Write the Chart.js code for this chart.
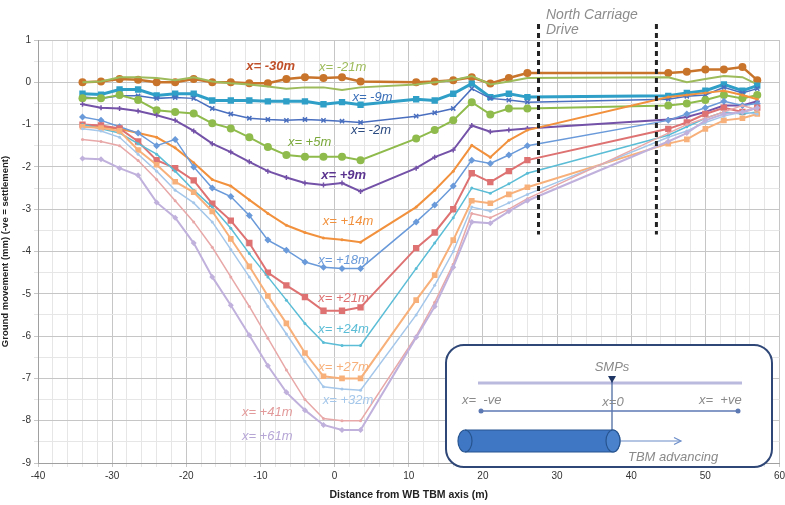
<!DOCTYPE html>
<html>
<head>
<meta charset="utf-8">
<script src="https://cdn.jsdelivr.net/npm/chart.js@4.4.1/dist/chart.umd.min.js"></script>
<style>
  html, body { margin: 0; padding: 0; background: #fff; }
  #wrap { width: 785px; height: 505px; }
</style>
</head>
<body>
<div id="wrap"><canvas id="settlement" width="785" height="505"></canvas></div>
<script>
// distance from WB TBM axis (m)
const xs = [-34, -31.5, -29, -26.5, -24, -21.5, -19, -16.5, -14, -11.5, -9, -6.5, -4, -1.5, 1, 3.5,
            11, 13.5, 16, 18.5, 21, 23.5, 26, 45, 47.5, 50, 52.5, 55, 57];

// ground movement (mm), one array per TBM face position
const m30 = [0.0, 0.02, 0.08, 0.06, 0.0, 0.0, 0.08, 0.0, 0.0, -0.02, -0.02, 0.08, 0.12, 0.1, 0.12, 0.02, 0.0, 0.02, 0.05, 0.12, -0.03, 0.1, 0.22, 0.22, 0.25, 0.3, 0.3, 0.36, 0.05];
const m21 = [0.0, 0.02, 0.12, 0.12, 0.1, 0.05, 0.12, 0.02, -0.02, -0.05, -0.1, -0.15, -0.12, -0.12, -0.18, -0.12, -0.05, 0.0, 0.05, 0.15, -0.05, 0.02, 0.1, 0.12, 0.0, 0.08, 0.15, 0.12, -0.05];
const m9 = [-0.27, -0.29, -0.17, -0.17, -0.31, -0.27, -0.27, -0.43, -0.43, -0.43, -0.45, -0.45, -0.45, -0.52, -0.47, -0.53, -0.4, -0.43, -0.27, -0.03, -0.35, -0.27, -0.35, -0.32, -0.25, -0.2, -0.05, -0.2, -0.08];
const m2 = [-0.35, -0.38, -0.32, -0.32, -0.38, -0.36, -0.38, -0.62, -0.75, -0.85, -0.88, -0.9, -0.88, -0.9, -0.92, -0.95, -0.8, -0.72, -0.62, -0.15, -0.38, -0.42, -0.47, -0.4, -0.33, -0.3, -0.12, -0.25, -0.15];
const p5 = [-0.38, -0.38, -0.3, -0.42, -0.66, -0.7, -0.74, -0.97, -1.09, -1.3, -1.53, -1.72, -1.76, -1.76, -1.76, -1.84, -1.33, -1.13, -0.9, -0.47, -0.76, -0.62, -0.62, -0.55, -0.5, -0.42, -0.3, -0.38, -0.3];
const p9 = [-0.52, -0.6, -0.62, -0.68, -0.78, -0.9, -1.15, -1.45, -1.65, -1.88, -2.1, -2.25, -2.38, -2.43, -2.38, -2.58, -2.03, -1.77, -1.6, -1.02, -1.17, -1.13, -1.09, -0.88, -0.82, -0.7, -0.55, -0.55, -0.45];
const p14 = [-1.0, -1.05, -1.1, -1.2, -1.3, -1.55, -1.9, -2.3, -2.45, -2.78, -3.1, -3.38, -3.55, -3.68, -3.72, -3.78, -2.95, -2.55, -2.1, -1.49, -1.77, -1.37, -1.13, -0.35, -0.3, -0.25, -0.2, -0.3, -0.4];
const p18 = [-0.82, -0.9, -1.05, -1.2, -1.5, -1.35, -2.0, -2.5, -2.7, -3.15, -3.73, -3.97, -4.25, -4.37, -4.4, -4.4, -3.3, -2.9, -2.45, -1.84, -1.92, -1.72, -1.5, -0.9, -0.75, -0.6, -0.45, -0.55, -0.5];
const p21 = [-1.0, -1.02, -1.09, -1.4, -1.84, -2.03, -2.32, -2.87, -3.27, -3.8, -4.5, -4.8, -5.08, -5.4, -5.4, -5.32, -3.92, -3.55, -3.0, -2.15, -2.36, -2.1, -1.84, -1.1, -0.95, -0.75, -0.6, -0.7, -0.6];
const p24 = [-1.0, -1.1, -1.2, -1.45, -1.7, -2.1, -2.55, -2.95, -3.45, -4.05, -4.6, -5.15, -5.7, -6.15, -6.22, -6.22, -4.4, -3.8, -3.2, -2.5, -2.62, -2.4, -2.15, -1.25, -1.05, -0.85, -0.7, -0.75, -0.7];
const p27 = [-1.05, -1.08, -1.15, -1.6, -1.95, -2.35, -2.6, -3.05, -3.7, -4.35, -5.05, -5.7, -6.4, -6.95, -7.0, -7.0, -5.15, -4.56, -3.73, -2.8, -2.86, -2.65, -2.48, -1.45, -1.35, -1.1, -0.9, -0.85, -0.75];
const p32 = [-1.1, -1.15, -1.3, -1.7, -2.1, -2.55, -2.85, -3.3, -3.95, -4.6, -5.3, -5.95, -6.6, -7.2, -7.25, -7.28, -5.5, -4.8, -4.0, -2.95, -3.05, -2.85, -2.65, -1.3, -1.15, -0.95, -0.8, -0.7, -0.75];
const p41 = [-1.35, -1.4, -1.5, -1.85, -2.3, -2.8, -3.3, -3.9, -4.6, -5.3, -6.05, -6.8, -7.5, -7.95, -8.0, -8.0, -6.0, -5.2, -4.3, -3.1, -3.2, -3.0, -2.75, -1.2, -1.0, -0.85, -0.7, -0.55, -0.65];
const p61 = [-1.8, -1.82, -2.03, -2.2, -2.84, -3.2, -3.8, -4.6, -5.27, -5.98, -6.7, -7.33, -7.75, -8.1, -8.22, -8.22, -6.03, -5.3, -4.37, -3.3, -3.33, -3.05, -2.8, -1.4, -1.2, -0.9, -0.75, -0.7, -0.6];

const seriesNames = ["x= -30m", "x= -21m", "x= -9m", "x= -2m", "x= +5m", "x= +9m", "x= +14m",
                     "x= +18m", "x= +21m", "x= +24m", "x= +27m", "x= +32m", "x= +41m", "x= +61m"];
const seriesValues = [m30, m21, m9, m2, p5, p9, p14, p18, p21, p24, p27, p32, p41, p61];

const colors = ["#c9742b", "#9dbb5a", "#2f9fc7", "#4a6fbf", "#8fba4c", "#7452a8", "#f2913d",
                "#6a9ad9", "#de7272", "#5bbdd6", "#f8b07a", "#a5c7ea", "#e8a8a8", "#c0b1dc"];
const markers = ["circle", "circle", "rect", "crossRot", "circle", "cross", "circle",
                 "rectRot", "rect", "circle", "rect", "circle", "circle", "rectRot"];
const radii = [4, 0, 4.5, 3, 4, 2.5, 1.5, 3.5, 4.5, 1.5, 4, 1.5, 1.5, 3];
const widths = [2.5, 2, 3, 1.5, 2, 2, 2, 1.5, 2, 1.5, 2, 1.5, 1.5, 2];

// curve labels: [text, x, y, colour, bold]
const curveLabels = [
  ["x= -30m", -11.9, 0.38, "#c0502a", true],
  ["x= -21m", -2.1, 0.35, "#9dbb5a", false],
  ["x= -9m", 2.4, -0.36, "#3b6fb8", false],
  ["x= -2m", 2.2, -1.13, "#2a4a80", false],
  ["x= +5m", -6.3, -1.42, "#7aa83a", false],
  ["x= +9m", -1.8, -2.2, "#5b3490", true],
  ["x= +14m", -1.6, -3.3, "#f2913d", false],
  ["x= +18m", -2.2, -4.2, "#6a9ad9", false],
  ["x= +21m", -2.2, -5.1, "#de7272", false],
  ["x= +24m", -2.2, -5.84, "#5bbdd6", false],
  ["x= +27m", -2.2, -6.74, "#f8b07a", false],
  ["x= +32m", -1.6, -7.52, "#a5c7ea", false],
  ["x= +41m", -12.5, -7.8, "#e39a9a", false],
  ["x= +61m", -12.5, -8.38, "#b6a6d6", false]
];

// North Carriage Drive limits
const driveEdges = [27.5, 43.4];
const driveBottom = -3.6;

const datasets = seriesValues.map((vals, i) => ({
  label: seriesNames[i],
  data: xs.map((x, j) => ({ x: x, y: vals[j] })),
  showLine: true,
  borderColor: colors[i],
  backgroundColor: colors[i],
  borderWidth: widths[i],
  pointStyle: markers[i],
  pointRadius: radii[i],
  pointBorderWidth: markers[i] === "crossRot" || markers[i] === "cross" ? 1.5 : 0,
  pointBorderColor: colors[i],
  tension: 0
})).reverse();

const overlay = {
  id: "overlay",
  afterDatasetsDraw(chart) {
    const ctx = chart.ctx;
    const xS = chart.scales.x, yS = chart.scales.y;
    ctx.save();

    // dashed road edges
    ctx.strokeStyle = "#222";
    ctx.lineWidth = 3;
    ctx.setLineDash([5, 4]);
    driveEdges.forEach(v => {
      const px = xS.getPixelForValue(v);
      ctx.beginPath();
      ctx.moveTo(px, 24);
      ctx.lineTo(px, yS.getPixelForValue(driveBottom));
      ctx.stroke();
    });
    ctx.setLineDash([]);

    ctx.fillStyle = "#8c8c8c";
    ctx.font = "italic 14px 'Liberation Sans', Arial, sans-serif";
    ctx.textBaseline = "middle";
    ctx.textAlign = "left";
    ctx.fillText("North Carriage", 546, 15);
    ctx.fillText("Drive", 546, 30);

    // curve labels
    curveLabels.forEach(l => {
      ctx.font = (l[4] ? "italic bold " : "italic ") + "13px 'Liberation Sans', Arial, sans-serif";
      ctx.fillStyle = l[3];
      ctx.fillText(l[0], xS.getPixelForValue(l[1]), yS.getPixelForValue(l[2]));
    });
    ctx.restore();
  },
  afterDraw(chart) {
    const ctx = chart.ctx;
    ctx.save();
    // inset sketch
    const bx = 446, by = 345, bw = 326, bh = 122, r = 18;
    ctx.beginPath();
    ctx.roundRect(bx, by, bw, bh, r);
    ctx.fillStyle = "#fff";
    ctx.fill();
    ctx.lineWidth = 2;
    ctx.strokeStyle = "#2f4777";
    ctx.stroke();

    ctx.strokeStyle = "#b9bade";
    ctx.lineWidth = 3;
    ctx.beginPath(); ctx.moveTo(478, 383); ctx.lineTo(742, 383); ctx.stroke();

    // SMP pointer
    ctx.strokeStyle = "#3d5f99";
    ctx.lineWidth = 1.2;
    ctx.beginPath(); ctx.moveTo(612, 380); ctx.lineTo(612, 432); ctx.stroke();
    ctx.fillStyle = "#1f3564";
    ctx.beginPath(); ctx.moveTo(608, 376); ctx.lineTo(616, 376); ctx.lineTo(612, 383); ctx.closePath(); ctx.fill();

    // x axis of the sketch
    ctx.strokeStyle = "#5d79b3";
    ctx.lineWidth = 1.5;
    ctx.beginPath(); ctx.moveTo(481, 411); ctx.lineTo(738, 411); ctx.stroke();
    ctx.fillStyle = "#5d79b3";
    [481, 738].forEach(px => { ctx.beginPath(); ctx.arc(px, 411, 2.5, 0, Math.PI * 2); ctx.fill(); });

    ctx.fillStyle = "#8a8a8a";
    ctx.font = "italic 13px 'Liberation Sans', Arial, sans-serif";
    ctx.textBaseline = "middle";
    ctx.textAlign = "center";
    ctx.fillText("SMPs", 612, 367);
    ctx.fillText("x=0", 613, 402);
    ctx.textAlign = "left";
    ctx.fillText("x=  -ve", 462, 400);
    ctx.fillText("x=  +ve", 699, 400);
    ctx.fillText("TBM advancing", 628, 457);

    // TBM cylinder
    const cy = 441, ch = 22;
    ctx.fillStyle = "#3f77c4";
    ctx.strokeStyle = "#27548f";
    ctx.lineWidth = 1.2;
    ctx.beginPath();
    ctx.moveTo(465, cy - ch / 2);
    ctx.lineTo(613, cy - ch / 2);
    ctx.ellipse(613, cy, 7, ch / 2, 0, -Math.PI / 2, Math.PI / 2);
    ctx.lineTo(465, cy + ch / 2);
    ctx.ellipse(465, cy, 7, ch / 2, 0, Math.PI / 2, Math.PI * 1.5);
    ctx.closePath();
    ctx.fill(); ctx.stroke();
    ctx.beginPath(); ctx.ellipse(465, cy, 7, ch / 2, 0, -Math.PI / 2, Math.PI / 2); ctx.stroke();
    ctx.fillStyle = "#4a82cc";
    ctx.beginPath(); ctx.ellipse(613, cy, 7, ch / 2, 0, 0, Math.PI * 2); ctx.fill(); ctx.stroke();

    // advance arrow
    ctx.strokeStyle = "#6a8cc8";
    ctx.lineWidth = 1.2;
    ctx.beginPath(); ctx.moveTo(621, cy); ctx.lineTo(680, cy); ctx.stroke();
    ctx.beginPath(); ctx.moveTo(674, cy - 3.5); ctx.lineTo(681, cy); ctx.lineTo(674, cy + 3.5); ctx.stroke();
    ctx.restore();
  }
};

const majorGrid = "#c6c6c6", minorGrid = "#e6e6e6";

new Chart(document.getElementById("settlement").getContext("2d"), {
  type: "scatter",
  data: { datasets: datasets },
  options: {
    responsive: false,
    animation: false,
    layout: { padding: { top: 40, right: 3, left: 0, bottom: 0 } },
    plugins: { legend: { display: false }, tooltip: { enabled: false } },
    scales: {
      x: {
        type: "linear",
        min: -40, max: 60,
        afterFit: s => { s.height = 42; s.paddingLeft = 0; s.paddingRight = 0; },
        border: { color: "#a0a0a0" },
        grid: {
          color: c => (c.tick && c.tick.value % 10 === 0 ? majorGrid : minorGrid),
          tickLength: 4
        },
        ticks: {
          stepSize: 2, autoSkip: false, maxRotation: 0,
          color: "#333", font: { size: 10, family: "'Liberation Sans', Arial" },
          callback: v => (v % 10 === 0 ? v : "")
        },
        title: {
          display: true, text: "Distance from WB TBM axis (m)", color: "#222",
          font: { size: 10.5, weight: "bold", family: "'Liberation Sans', Arial" }, padding: { top: 1 }
        }
      },
      y: {
        type: "linear",
        min: -9, max: 1,
        afterFit: s => { s.width = 38; },
        border: { color: "#a0a0a0" },
        grid: {
          color: c => (c.tick && Number.isInteger(c.tick.value) ? majorGrid : minorGrid),
          tickLength: 4
        },
        ticks: {
          stepSize: 0.5, autoSkip: false,
          color: "#333", font: { size: 10, family: "'Liberation Sans', Arial" },
          callback: v => (Number.isInteger(v) ? v : "")
        },
        title: {
          display: true, text: "Ground movement (mm) (-ve = settlement)", color: "#222",
          font: { size: 9.5, weight: "bold", family: "'Liberation Sans', Arial" }, padding: 0
        }
      }
    }
  },
  plugins: [overlay]
});
</script>
</body>
</html>
